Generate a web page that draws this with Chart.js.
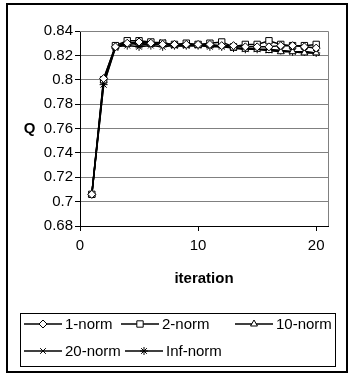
<!DOCTYPE html>
<html>
<head>
<meta charset="utf-8">
<script src="https://cdn.jsdelivr.net/npm/chart.js@4/dist/chart.umd.min.js"></script>
<style>
    html, body { margin: 0; padding: 0; background: #fff; }
    #wrap { position: relative; width: 349px; height: 373px; }
    #frame { position: absolute; left: 6px; top: 3px; width: 338px; height: 366px; border: 2px solid #000; }
    canvas { position: absolute; left: 0; top: 0; }
</style>
</head>
<body>
<div id="wrap">
    <div id="frame"></div>
    <canvas id="myChart" width="349" height="373"></canvas>
</div>
<script>
var iterations = [1, 2, 3, 4, 5, 6, 7, 8, 9, 10, 11, 12, 13, 14, 15, 16, 17, 18, 19, 20];
var norm1   = [0.706, 0.801, 0.827, 0.830, 0.831, 0.830, 0.829, 0.829, 0.829, 0.829, 0.829, 0.828, 0.828, 0.827, 0.827, 0.827, 0.828, 0.828, 0.827, 0.826];
var norm2   = [0.706, 0.800, 0.828, 0.832, 0.832, 0.831, 0.830, 0.829, 0.830, 0.829, 0.830, 0.831, 0.827, 0.829, 0.829, 0.832, 0.829, 0.828, 0.828, 0.829];
var norm10  = [0.706, 0.799, 0.827, 0.829, 0.830, 0.829, 0.829, 0.828, 0.828, 0.828, 0.828, 0.828, 0.826, 0.825, 0.825, 0.824, 0.823, 0.823, 0.822, 0.822];
var norm20  = [0.706, 0.796, 0.826, 0.832, 0.828, 0.830, 0.831, 0.828, 0.828, 0.829, 0.828, 0.828, 0.826, 0.826, 0.825, 0.824, 0.824, 0.823, 0.823, 0.822];
var normInf = [0.706, 0.796, 0.827, 0.828, 0.827, 0.828, 0.827, 0.828, 0.828, 0.828, 0.827, 0.827, 0.826, 0.825, 0.825, 0.825, 0.824, 0.823, 0.823, 0.822];
var seriesNames = ['1-norm', '2-norm', '10-norm', '20-norm', 'Inf-norm'];
var xTicks = [0, 10, 20];
var pointStyles = ['rectRot', 'rect', 'triangle', 'crossRot', 'star'];
var pointSizes = [4, 4.5, 4, 4, 4];

var FONT = "'Liberation Sans', Arial, sans-serif";

function toPoints(values){
    var pts = [];
    for(var i = 0; i < iterations.length; i++){
        pts.push({x: iterations[i], y: values[i]});
    }
    return pts;
}

var allSeries = [norm1, norm2, norm10, norm20, normInf];
var datasets = [];
for(var s = 0; s < allSeries.length; s++){
    datasets.push({
        label: seriesNames[s],
        data: toPoints(allSeries[s]),
        borderColor: '#000',
        borderWidth: 1.5,
        backgroundColor: '#fff',
        pointStyle: pointStyles[s],
        pointRadius: pointSizes[s],
        pointBorderColor: '#000',
        pointBorderWidth: 1,
        pointBackgroundColor: '#fff'
    });
}

// legend in a box + upright "Q" title
var excelLegend = {
    id: 'excelLegend',
    afterDraw: function(chart){
        var ctx = chart.ctx;
        var area = chart.chartArea;
        ctx.save();
        ctx.fillStyle = '#000';
        ctx.font = 'bold 15px ' + FONT;
        ctx.textAlign = 'center';
        ctx.textBaseline = 'middle';
        ctx.fillText('Q', 29.5, (area.top + area.bottom) / 2);

        ctx.strokeStyle = '#000';
        ctx.lineWidth = 1;
        ctx.strokeRect(20.5, 313.5, 315, 53);

        ctx.font = '15px ' + FONT;
        ctx.textAlign = 'left';
        var items = [
            {i: 0, x: 24, y: 324}, {i: 1, x: 121, y: 324}, {i: 2, x: 235, y: 324},
            {i: 3, x: 24, y: 351}, {i: 4, x: 125, y: 351}
        ];
        for(var k = 0; k < items.length; k++){
            var it = items[k];
            var ds = chart.data.datasets[it.i];
            ctx.strokeStyle = '#000';
            ctx.lineWidth = 1.5;
            ctx.beginPath();
            ctx.moveTo(it.x, it.y);
            ctx.lineTo(it.x + 38, it.y);
            ctx.stroke();
            ctx.lineWidth = 1;
            ctx.fillStyle = '#fff';
            Chart.helpers.drawPoint(ctx, {pointStyle: ds.pointStyle, radius: ds.pointRadius, borderWidth: 1, rotation: 0}, it.x + 19, it.y);
            ctx.fillStyle = '#000';
            ctx.fillText(ds.label, it.x + 41, it.y + 1);
        }
        ctx.restore();
    }
};

var chart = new Chart(document.getElementById('myChart'), {
    type: 'line',
    data: { datasets: datasets },
    options: {
        responsive: false,
        animation: false,
        layout: { padding: { left: 8, top: 31, right: 21, bottom: 77 } },
        plugins: { legend: { display: false }, tooltip: { enabled: false } },
        scales: {
            x: {
                type: 'linear',
                min: 0,
                max: 21,
                afterFit: function(scale){ scale.height = 70; },
                afterBuildTicks: function(scale){
                    scale.ticks = xTicks.map(function(v){ return {value: v}; });
                },
                ticks: { color: '#000', font: { family: FONT, size: 15 }, padding: 6, maxRotation: 0 },
                grid: { drawOnChartArea: false, color: '#000', tickLength: 5 },
                border: { color: '#000', width: 1 },
                title: { display: true, text: 'iteration', color: '#000', font: { family: FONT, size: 15, weight: 'bold' }, padding: { top: 0, bottom: 8 } }
            },
            y: {
                min: 0.68,
                max: 0.84,
                afterFit: function(scale){ scale.width = 72; },
                ticks: {
                    stepSize: 0.02, color: '#000', font: { family: FONT, size: 15 }, padding: 2,
                    callback: function(v){ return String(Number(v.toFixed(2))); }
                },
                grid: { color: '#808080', tickColor: '#000', tickLength: 5 },
                border: { color: '#000', width: 1 },
                title: { display: false, text: 'Q' }
            }
        }
    },
    plugins: [excelLegend, {
        id: 'plotBorder',
        beforeDatasetsDraw: function(chart){
            var a = chart.chartArea;
            var ctx = chart.ctx;
            ctx.save();
            ctx.strokeStyle = '#808080';
            ctx.lineWidth = 1;
            ctx.beginPath();
            ctx.moveTo(a.left, a.top + 0.5);
            ctx.lineTo(a.right + 0.5, a.top + 0.5);
            ctx.lineTo(a.right + 0.5, a.bottom);
            ctx.stroke();
            ctx.restore();
        }
    }]
});
</script>
</body>
</html>
